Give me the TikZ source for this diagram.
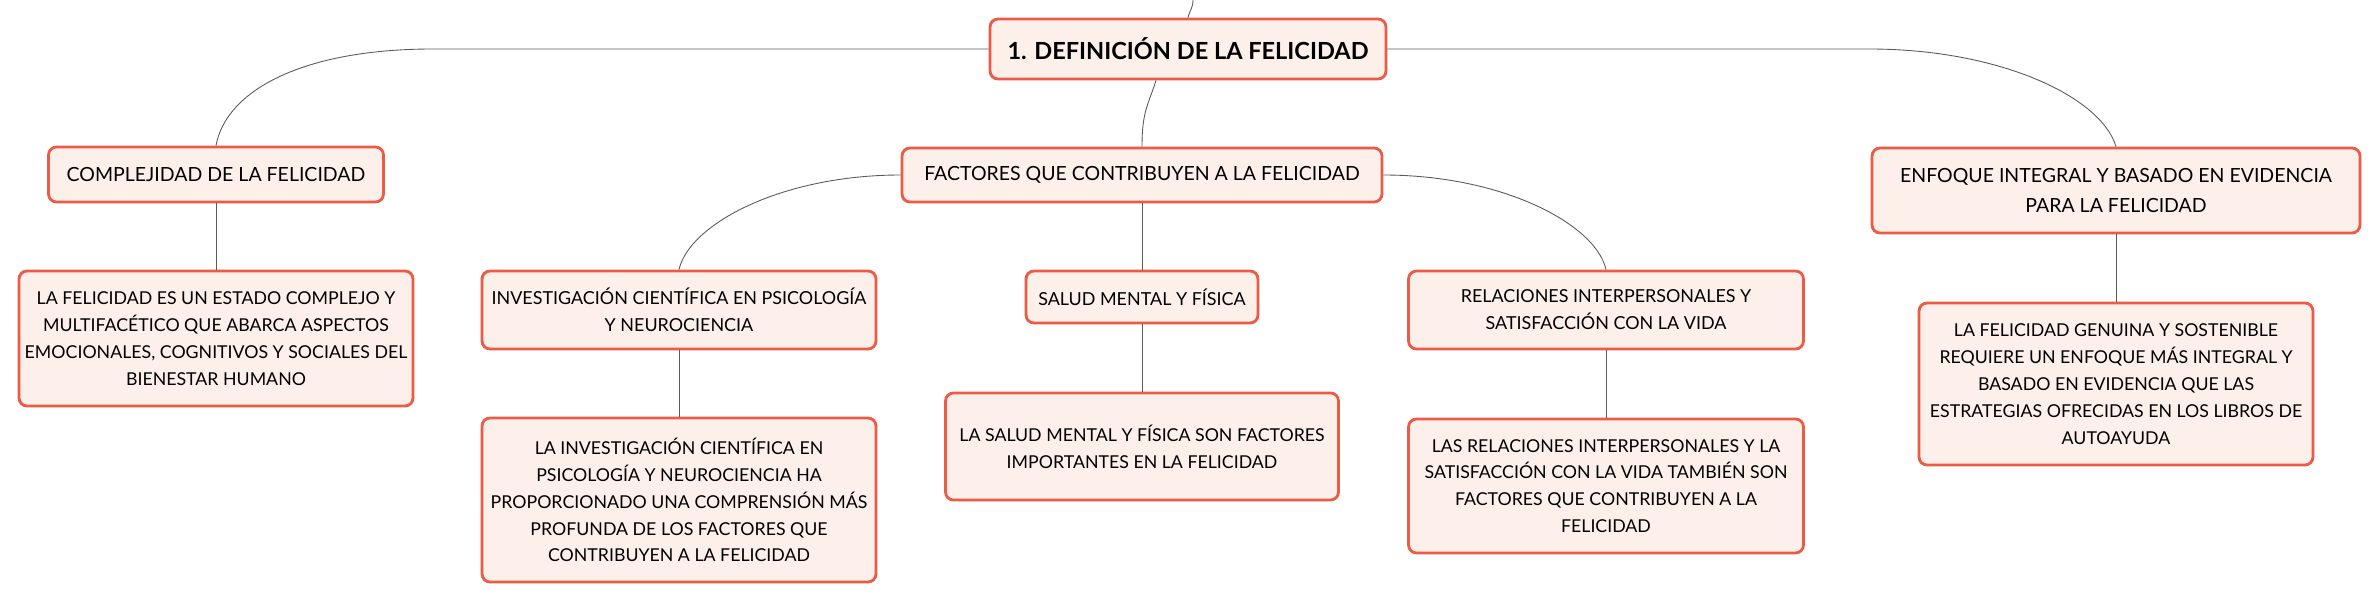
\documentclass[tikz,border=0pt]{standalone}
\usepackage{fontspec}
\setmainfont{Lato}
\usetikzlibrary{calc}
\definecolor{boxred}{HTML}{EB5B45}
\definecolor{boxfill}{HTML}{FDF0EB}
\definecolor{linkgray}{HTML}{5A5A5A}

\begin{document}
\begin{tikzpicture}[x=0.02cm,y=-0.02cm,
	box/.style={draw=boxred,fill=boxfill,line width=1.6pt,rounded corners=4.5pt,align=center,inner sep=0pt},
	roottopic/.style={box,font=\fontsize{13.4}{16}\selectfont\bfseries},
	maintopic/.style={box,font=\fontsize{11.1}{17}\selectfont},
	subtopic/.style={box,font=\fontsize{10.2}{15.3}\selectfont},
	leaf/.style={box,font=\fontsize{10.1}{15.3}\selectfont},
	link/.style={draw=linkgray,line width=0.5pt}]
	\useasboundingbox (0,0) rectangle (2376,602);
	\node[roottopic,minimum width=7.92cm,minimum height=1.2cm] (root) at (1188,49) {1. DEFINICIÓN DE LA FELICIDAD};
	\node[maintopic,minimum width=6.7cm,minimum height=1.1cm] (compl) at (216,174.5) {COMPLEJIDAD DE LA FELICIDAD};
	\node[maintopic,minimum width=9.6cm,minimum height=1.08cm] (fact) at (1142,175) {FACTORES QUE CONTRIBUYEN A LA FELICIDAD};
	\node[maintopic,minimum width=9.76cm,minimum height=1.7cm] (enf) at (2116,190.5) {ENFOQUE INTEGRAL Y BASADO EN EVIDENCIA\\PARA LA FELICIDAD};
	\node[leaf,minimum width=7.88cm,minimum height=2.7cm] (complleaf) at (216,338.5) {LA FELICIDAD ES UN ESTADO COMPLEJO Y\\MULTIFACÉTICO QUE ABARCA ASPECTOS\\EMOCIONALES, COGNITIVOS Y SOCIALES DEL\\BIENESTAR HUMANO};
	\node[subtopic,minimum width=7.88cm,minimum height=1.56cm] (inv) at (679,310) {INVESTIGACIÓN CIENTÍFICA EN PSICOLOGÍA\\Y NEUROCIENCIA};
	\node[subtopic,minimum width=4.64cm,minimum height=1.04cm] (salud) at (1142,297) {SALUD MENTAL Y FÍSICA};
	\node[subtopic,minimum width=7.9cm,minimum height=1.56cm] (rel) at (1606,310) {RELACIONES INTERPERSONALES Y\\SATISFACCIÓN CON LA VIDA};
	\node[leaf,minimum width=7.88cm,minimum height=3.28cm] (invleaf) at (679,500) {LA INVESTIGACIÓN CIENTÍFICA EN\\PSICOLOGÍA Y NEUROCIENCIA HA\\PROPORCIONADO UNA COMPRENSIÓN MÁS\\PROFUNDA DE LOS FACTORES QUE\\CONTRIBUYEN A LA FELICIDAD};
	\node[leaf,minimum width=7.86cm,minimum height=2.14cm] (saludleaf) at (1142,446.5) {LA SALUD MENTAL Y FÍSICA SON FACTORES\\IMPORTANTES EN LA FELICIDAD};
	\node[leaf,minimum width=7.9cm,minimum height=2.68cm] (relleaf) at (1606,486) {LAS RELACIONES INTERPERSONALES Y LA\\SATISFACCIÓN CON LA VIDA TAMBIÉN SON\\FACTORES QUE CONTRIBUYEN A LA\\FELICIDAD};
	\node[leaf,minimum width=7.88cm,minimum height=3.24cm] (enfleaf) at (2116,384) {LA FELICIDAD GENUINA Y SOSTENIBLE\\REQUIERE UN ENFOQUE MÁS INTEGRAL Y\\BASADO EN EVIDENCIA QUE LAS\\ESTRATEGIAS OFRECIDAS EN LOS LIBROS DE\\AUTOAYUDA};
	\coordinate (parent) at (1193,0);
	\draw[link] (parent) .. controls +(0,8) and +(2,-8) .. (root.north);
	\draw[link] (root.west) -- ++(-556,0) .. controls +(-130,0) and +(10,-55) .. (compl.north);
	\draw[link] (root.east) -- ++(482,0) .. controls +(130,0) and +(-15,-50) .. (enf.north);
	\draw[link] ($(root.south)+(-32,0)$) .. controls +(-8,25) and +(0,-35) .. (fact.north);
	\draw[link] (fact.west) .. controls +(-120,0) and +(10,-45) .. (inv.north);
	\draw[link] (fact.east) .. controls +(120,0) and +(-10,-45) .. (rel.north);
	\draw[link] (fact.south) -- (salud.north);
	\draw[link] (compl.south) -- (complleaf.north);
	\draw[link] (inv.south) -- (invleaf.north);
	\draw[link] (salud.south) -- (saludleaf.north);
	\draw[link] (rel.south) -- (relleaf.north);
	\draw[link] (enf.south) -- (enfleaf.north);
\end{tikzpicture}
\end{document}
